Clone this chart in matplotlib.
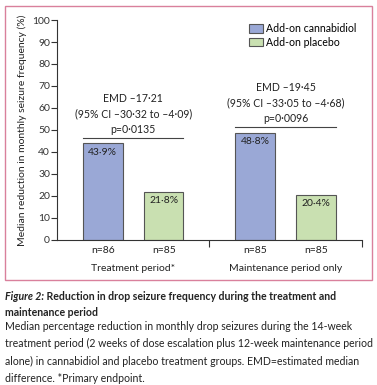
import numpy as np
from matplotlib import pyplot as plt
from matplotlib.patches import Rectangle, Patch

plt.rcParams['font.family'] = ['Lato', 'DejaVu Sans']

periods = ["Treatment period*", "Maintenance period only"]
cbd = [43.9, 48.8]
placebo = [21.8, 20.4]
n_cbd = [86, 85]
n_pbo = [85, 85]
cbd_labels = ["43·9%", "48·8%"]
pbo_labels = ["21·8%", "20·4%"]
emd_text = ["EMD –17·21\n(95% CI –30·32 to –4·09)\np=0·0135",
            "EMD –19·45\n(95% CI –33·05 to –4·68)\np=0·0096"]
emd_line_y = [46.4, 51.4]
yticks = [0, 10, 20, 30, 40, 50, 60, 70, 80, 90, 100]

blue = '#9aa8d6'
green = '#c9e0b1'
edge = '#555555'
txt = '#222222'

fig = plt.figure(figsize=(3.77, 3.85), dpi=100)
fig.patches.append(Rectangle((0.013, 0.273), 0.974, 0.711, transform=fig.transFigure,
                             fill=False, edgecolor='#d9809c', linewidth=1.0))

ax = fig.add_axes([0.151, 0.377, 0.809, 0.571])
centers = np.array([1.0, 3.0])
off = 0.4
w = 0.52
ax.bar(centers - off, cbd, width=w, color=blue, edgecolor=edge, linewidth=0.8)
ax.bar(centers + off, placebo, width=w, color=green, edgecolor=edge, linewidth=0.8)

for i in range(2):
    ax.text(centers[i] - off, cbd[i] - 2, cbd_labels[i], ha='center', va='top', fontsize=7.5, color=txt)
    ax.text(centers[i] + off, placebo[i] - 2, pbo_labels[i], ha='center', va='top', fontsize=7.5, color=txt)
    ax.text(centers[i] - off, -3, "n=%d" % n_cbd[i], ha='center', va='top', fontsize=7.5, color=txt)
    ax.text(centers[i] + off, -3, "n=%d" % n_pbo[i], ha='center', va='top', fontsize=7.5, color=txt)
    ax.text(centers[i], -11, periods[i], ha='center', va='top', fontsize=7.5, color=txt)
    ax.plot([centers[i] - off - w / 2, centers[i] + off + w / 2], [emd_line_y[i]] * 2,
            color='#444444', linewidth=0.8, clip_on=False)
    ax.text(centers[i], emd_line_y[i] + 1.5, emd_text[i], ha='center', va='bottom',
            fontsize=7.6, color=txt, linespacing=1.45)

ax.set_xlim(0, 4)
ax.set_ylim(0, 100)
ax.set_xticks([2, 4])
ax.set_xticklabels([])
ax.set_yticks(yticks)
ax.tick_params(axis='y', labelsize=7.5, length=4, width=0.8, colors='#333333', pad=1)
ax.tick_params(axis='x', length=5, width=0.8, colors='#333333')
for s in ['top', 'right']:
    ax.spines[s].set_visible(False)
for s in ['left', 'bottom']:
    ax.spines[s].set_color('#333333')
    ax.spines[s].set_linewidth(0.8)
ax.set_ylabel("Median reduction in monthly seizure frequency (%)", fontsize=7.5, color=txt, labelpad=4)

handles = [Patch(facecolor=blue, edgecolor=edge, linewidth=0.8, label="Add-on cannabidiol"),
           Patch(facecolor=green, edgecolor=edge, linewidth=0.8, label="Add-on placebo")]
ax.legend(handles=handles, loc='upper right', bbox_to_anchor=(0.995, 1.005), frameon=False,
          fontsize=7.6, handlelength=1.3, handleheight=0.8, handletextpad=0.3, labelspacing=0.25,
          borderaxespad=0)

t1 = fig.text(0.013, 0.220, "Figure 2:", fontsize=7.6, fontweight='bold', style='italic', color=txt, va='baseline')
fig.canvas.draw()
bb = t1.get_window_extent().transformed(fig.transFigure.inverted())
fig.text(bb.x1, 0.220, " Reduction in drop seizure frequency during the treatment and",
         fontsize=7.6, fontweight='bold', color=txt, va='baseline')
fig.text(0.013, 0.178, "maintenance period", fontsize=7.6, fontweight='bold', color=txt, va='baseline')
caption = ("Median percentage reduction in monthly drop seizures during the 14-week\n"
           "treatment period (2 weeks of dose escalation plus 12-week maintenance period\n"
           "alone) in cannabidiol and placebo treatment groups. EMD=estimated median\n"
           "difference. *Primary endpoint.")
fig.text(0.013, 0.166, caption, fontsize=7.6, color=txt, va='top', linespacing=1.7)

plt.savefig("out.png", dpi=100)
